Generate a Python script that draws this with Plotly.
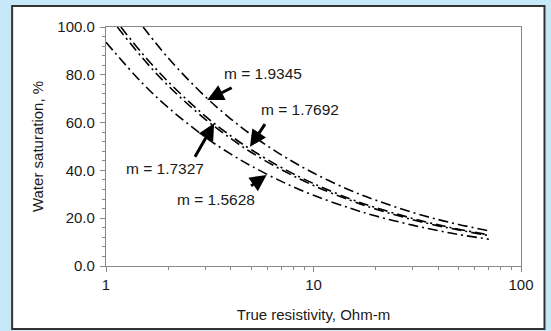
import plotly.graph_objects as go

# Data (true resistivity, Ohm-m vs water saturation, %)
rt_m19345 = [1.51, 2, 3, 4, 5, 7, 10, 15, 20, 30, 40, 50, 70]
sw_m19345 = [100.0, 86.9, 71.0, 61.5, 55.0, 46.5, 38.9, 31.7, 27.5, 22.4, 19.4, 17.4, 14.7]

rt_m17692 = [1.18, 1.5, 2, 3, 4, 5, 7, 10, 15, 20, 30, 40, 50, 70]
sw_m17692 = [100.0, 88.8, 77.0, 62.8, 54.4, 48.7, 41.2, 34.5, 28.1, 24.4, 19.9, 17.2, 15.4, 13.0]

rt_m17327 = [1.134, 1.5, 2, 3, 4, 5, 7, 10, 15, 20, 30, 40, 50, 70]
sw_m17327 = [100.0, 87.0, 75.3, 61.5, 53.3, 47.6, 40.3, 33.7, 27.5, 23.8, 19.4, 16.8, 15.1, 12.7]

rt_m15628 = [1, 1.5, 2, 3, 4, 5, 7, 10, 15, 20, 30, 40, 50, 70]
sw_m15628 = [93.6, 76.4, 66.2, 54.0, 46.8, 41.9, 35.4, 29.6, 24.2, 20.9, 17.1, 14.8, 13.2, 11.2]

labels = ["m = 1.9345", "m = 1.7692", "m = 1.7327", "m = 1.5628"]
x_ticks = [1, 10, 100]
x_tick_text = ["1", "10", "100"]
y_ticks = [0, 20, 40, 60, 80, 100]

series = [(rt_m19345, sw_m19345), (rt_m17692, sw_m17692),
          (rt_m17327, sw_m17327), (rt_m15628, sw_m15628)]

fig = go.Figure()
for (xs, ys), name in zip(series, labels):
    fig.add_trace(go.Scatter(x=xs, y=ys, mode="lines", name=name,
                             line=dict(color="black", width=1.6, shape="spline",
                                       dash="10px,4px,2px,4px")))

FONT = "Liberation Sans, Arial, sans-serif"

# white framed panel
fig.add_shape(type="rect", xref="paper", yref="paper",
              x0=-0.2262, x1=1.0566, y0=-0.2636, y1=1.0879,
              fillcolor="white", line=dict(color="#333333", width=2), layer="below")

# text labels
text_pos = [(0.379, 0.8075), (0.468, 0.653), (0.142, 0.406), (0.265, 0.280)]
for (tx, ty), t in zip(text_pos, labels):
    fig.add_annotation(x=tx, y=ty, xref="paper", yref="paper", text=t,
                       xanchor="center", yanchor="middle",
                       showarrow=False, font=dict(family=FONT, size=15.5, color="#1a1a1a"))

# arrows
arrows = [(0.2438, 0.6946, 26, -13), (0.347, 0.4992, 16, -24),
          (0.2606, 0.597, -20, 35), (0.387, 0.381, -17, 12)]
for hx, hy, ax, ay in arrows:
    fig.add_annotation(x=hx, y=hy, xref="paper", yref="paper", text="",
                       showarrow=True, ax=ax, ay=ay, arrowhead=2, arrowsize=1.1,
                       arrowwidth=3, arrowcolor="black")

axis_common = dict(showline=True, linecolor="#888888", linewidth=1.2, mirror=True,
                   ticks="outside", tickcolor="#888888", showgrid=False, zeroline=False,
                   tickfont=dict(family=FONT, size=15, color="#1a1a1a"))

fig.update_xaxes(type="log", range=[0, 2], tickmode="array", tickvals=x_ticks,
                 ticktext=x_tick_text, ticklen=5,
                 minor=dict(ticks="outside", ticklen=3, tickcolor="#888888",
                            tickvals=[2, 3, 4, 5, 6, 7, 8, 9, 20, 30, 40, 50, 60, 70, 80, 90]),
                 title=dict(text="True resistivity, Ohm-m", standoff=17,
                            font=dict(family=FONT, size=15, color="#1a1a1a")),
                 **axis_common)
fig.update_yaxes(range=[0, 100], tickmode="array", tickvals=y_ticks, tickformat=".1f",
                 ticklen=5, ticklabelstandoff=2,
                 minor=dict(ticks="outside", ticklen=3, tickcolor="#888888", dtick=4),
                 title=dict(text="Water saturation, %", standoff=10,
                            font=dict(family=FONT, size=15, color="#1a1a1a")),
                 **axis_common)

fig.update_layout(width=551, height=331, showlegend=False,
                  margin=dict(l=106, r=30, t=27, b=65, autoexpand=False),
                  paper_bgcolor="#c6e8f8", plot_bgcolor="white")

fig.write_html("out.html")
